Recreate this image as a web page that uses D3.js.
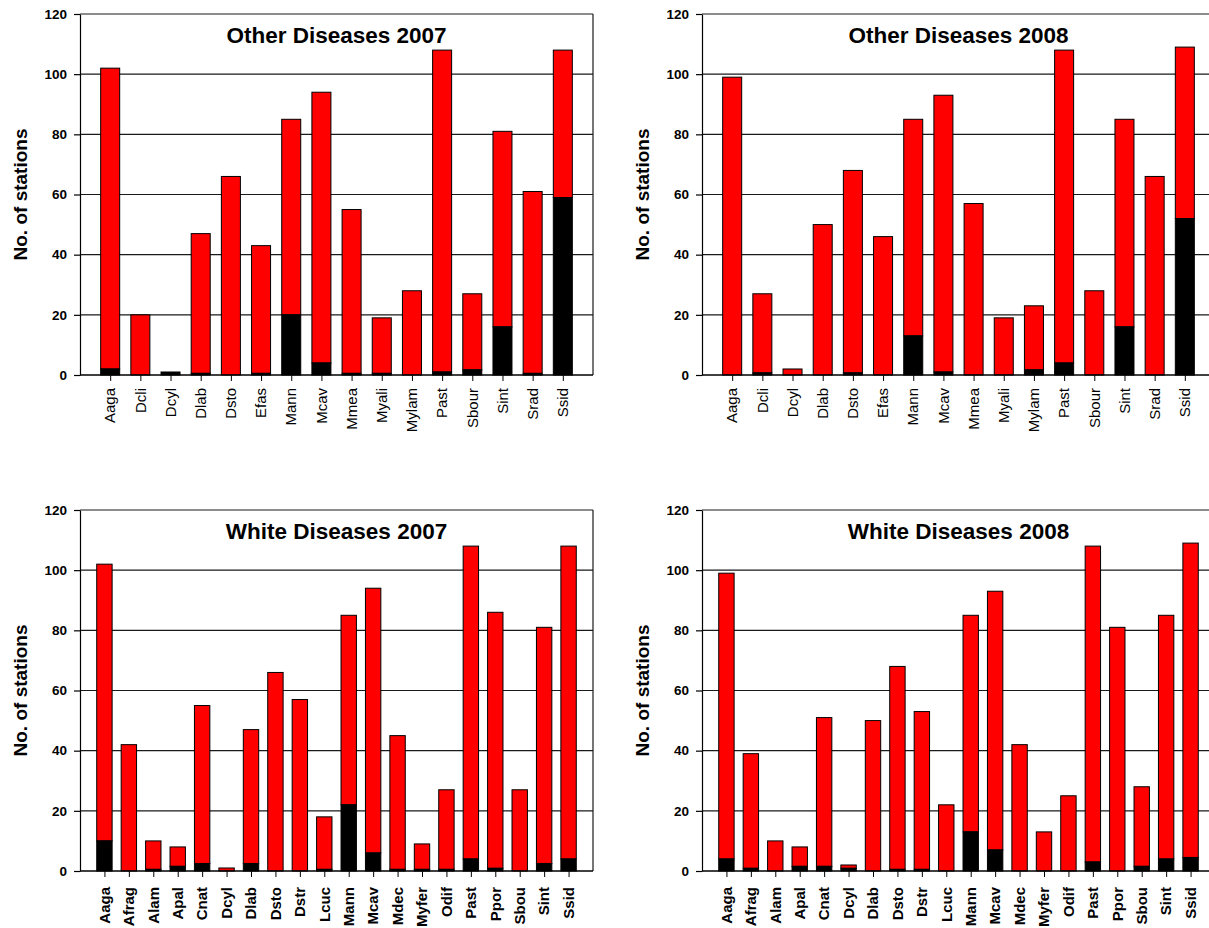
<!DOCTYPE html>
<html>
<head>
<meta charset="utf-8">
<script src="https://cdn.jsdelivr.net/npm/d3@7/dist/d3.min.js"></script>
<style>
  html, body { margin: 0; padding: 0; background: #fff; }
  svg { display: block; }
  text { font-family: "Liberation Sans", Arial, Helvetica, sans-serif; fill: #000; }
</style>
</head>
<body>
<script>
// ---------- data ----------
const otherCategories = ["Aaga","Dcli","Dcyl","Dlab","Dsto","Efas","Mann","Mcav","Mmea","Myali","Mylam","Past","Sbour","Sint","Srad","Ssid"];
const otherTotal2007 = [102, 20, 1, 47, 66, 43, 85, 94, 55, 19, 28, 108, 27, 81, 61, 108];
const otherBlack2007 = [2, 0, 1, 0.55, 0, 0.55, 20, 4, 0.55, 0.55, 0, 1, 1.7, 16, 0.55, 59];
const otherTotal2008 = [99, 27, 2, 50, 68, 46, 85, 93, 57, 19, 23, 108, 28, 85, 66, 109];
const otherBlack2008 = [0, 0.7, 0, 0, 0.7, 0, 13, 1, 0, 0, 1.7, 4, 0, 16, 0, 52];

const whiteCategories = ["Aaga","Afrag","Alam","Apal","Cnat","Dcyl","Dlab","Dsto","Dstr","Lcuc","Mann","Mcav","Mdec","Myfer","Odif","Past","Ppor","Sbou","Sint","Ssid"];
const whiteTotal2007 = [102, 42, 10, 8, 55, 1, 47, 66, 57, 18, 85, 94, 45, 9, 27, 108, 86, 27, 81, 108];
const whiteBlack2007 = [10, 0, 0.55, 1.55, 2.5, 0, 2.5, 0, 0, 0.55, 22, 6, 0.55, 0.55, 0.55, 4, 0.9, 0, 2.5, 4];
const whiteTotal2008 = [99, 39, 10, 8, 51, 2, 50, 68, 53, 22, 85, 93, 42, 13, 25, 108, 81, 28, 85, 109];
const whiteBlack2008 = [4, 0.9, 0, 1.55, 1.55, 0.9, 0, 0.55, 0.55, 0, 13, 7, 0, 0, 0, 3, 0, 1.55, 4, 4.5];

const yTicks = [0, 20, 40, 60, 80, 100, 120];
const yTitle = "No. of stations";

// ---------- layout ----------
const W = 1209, H = 928;
const panels = [
  { title: "Other Diseases 2007", cats: otherCategories, total: otherTotal2007, black: otherBlack2007,
    x0: 80, x1: 593, y0: 14, y1: 375, boldLabels: false, labelGap: 13 },
  { title: "Other Diseases 2008", cats: otherCategories, total: otherTotal2008, black: otherBlack2008,
    x0: 702, x1: 1215, y0: 14, y1: 375, boldLabels: false, labelGap: 13 },
  { title: "White Diseases 2007", cats: whiteCategories, total: whiteTotal2007, black: whiteBlack2007,
    x0: 80, x1: 593, y0: 510, y1: 871, boldLabels: true, labelGap: 16 },
  { title: "White Diseases 2008", cats: whiteCategories, total: whiteTotal2008, black: whiteBlack2008,
    x0: 702, x1: 1215, y0: 510, y1: 871, boldLabels: true, labelGap: 16 }
];

const svg = d3.select("body").append("svg")
  .attr("width", W).attr("height", H)
  .attr("viewBox", `0 0 ${W} ${H}`);

panels.forEach(p => {
  const g = svg.append("g");
  const n = p.cats.length;
  const step = (p.x1 - p.x0) / (n + 1);
  const x = d3.scalePoint().domain(p.cats).range([p.x0 + step, p.x1 - step]);
  const y = d3.scaleLinear().domain([0, 120]).range([p.y1, p.y0]);
  const bw = step * 0.63;

  // gridlines
  g.append("g").selectAll("line")
    .data(yTicks.filter(t => t > 0 && t < 120))
    .join("line")
    .attr("x1", p.x0).attr("x2", p.x1)
    .attr("y1", d => y(d)).attr("y2", d => y(d))
    .attr("stroke", "#1a1a1a").attr("stroke-width", 1.2);

  // frame (top + right)
  g.append("line").attr("x1", p.x0).attr("x2", p.x1).attr("y1", y(120)).attr("y2", y(120))
    .attr("stroke", "#1a1a1a").attr("stroke-width", 1.2);
  g.append("line").attr("x1", p.x1).attr("x2", p.x1).attr("y1", y(120)).attr("y2", y(0))
    .attr("stroke", "#1a1a1a").attr("stroke-width", 1.2);

  const rows = p.cats.map((c, i) => ({ cat: c, total: p.total[i], black: p.black[i] }));

  // red segments (top part)
  g.append("g").selectAll("rect")
    .data(rows.filter(d => d.total > d.black))
    .join("rect")
    .attr("x", d => x(d.cat) - bw / 2)
    .attr("width", bw)
    .attr("y", d => y(d.total))
    .attr("height", d => y(d.black) - y(d.total))
    .attr("fill", "#ff0000")
    .attr("stroke", "#000").attr("stroke-width", 1);

  // black segments (bottom part)
  g.append("g").selectAll("rect")
    .data(rows.filter(d => d.black > 0))
    .join("rect")
    .attr("x", d => x(d.cat) - bw / 2)
    .attr("width", bw)
    .attr("y", d => y(d.black))
    .attr("height", d => y(0) - y(d.black))
    .attr("fill", "#000")
    .attr("stroke", "#000").attr("stroke-width", 1);

  // y axis
  const yAxis = d3.axisLeft(y).tickValues(yTicks).tickFormat(d3.format("d"))
    .tickSize(6).tickSizeOuter(0).tickPadding(7);
  const ya = g.append("g").attr("transform", `translate(${p.x0},0)`).call(yAxis);
  ya.select(".domain").attr("stroke", "#000").attr("stroke-width", 1.2);
  ya.selectAll(".tick line").attr("stroke", "#000").attr("stroke-width", 1.2);
  ya.selectAll(".tick text")
    .style("font-family", '"Liberation Sans", Arial, sans-serif')
    .style("font-size", "13.5px").style("font-weight", "bold").attr("fill", "#000");

  // x axis
  const xAxis = d3.axisBottom(x).tickSize(6).tickSizeOuter(0).tickFormat("");
  const xa = g.append("g").attr("transform", `translate(0,${p.y1})`).call(xAxis);
  xa.select(".domain").remove();
  xa.selectAll(".tick line").attr("stroke", "#000").attr("stroke-width", 1);
  g.append("line").attr("x1", p.x0).attr("x2", p.x1).attr("y1", p.y1).attr("y2", p.y1)
    .attr("stroke", "#000").attr("stroke-width", 1.4);

  // category labels (rotated)
  g.append("g").selectAll("text")
    .data(p.cats)
    .join("text")
    .attr("transform", d => `translate(${x(d)},${p.y1 + p.labelGap}) rotate(-90)`)
    .attr("text-anchor", "end")
    .attr("dy", "0.35em")
    .style("font-size", "15px")
    .style("font-weight", p.boldLabels ? "bold" : "normal")
    .text(d => d);

  // title
  g.append("text")
    .attr("x", (p.x0 + p.x1) / 2)
    .attr("y", p.y0 + 29)
    .attr("text-anchor", "middle")
    .style("font-size", "22.5px").style("font-weight", "bold")
    .text(p.title);

  // y axis title
  g.append("text")
    .attr("transform", `translate(${p.x0 - 60},${(p.y0 + p.y1) / 2}) rotate(-90)`)
    .attr("text-anchor", "middle")
    .attr("dy", "0.35em")
    .style("font-size", "19px").style("font-weight", "bold")
    .text(yTitle);
});
</script>
</body>
</html>
